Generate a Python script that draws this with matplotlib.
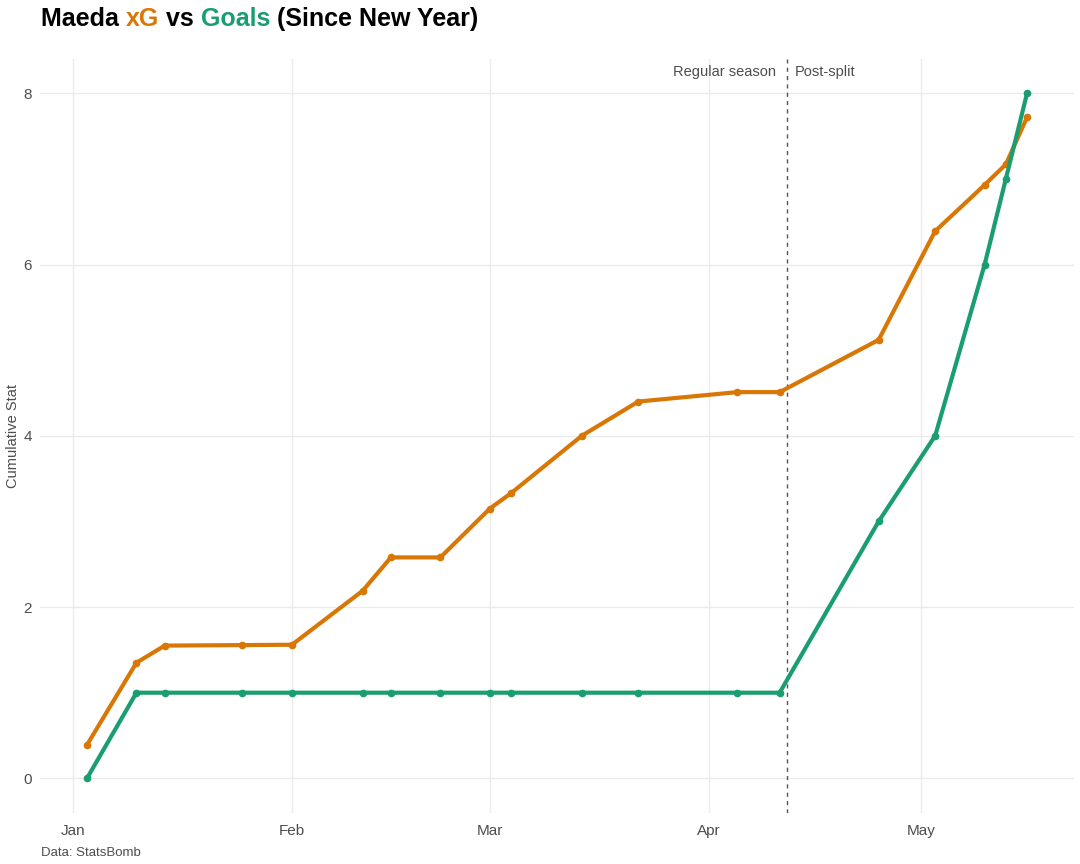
import matplotlib
matplotlib.use('Agg')
import matplotlib.pyplot as plt
import matplotlib.dates as mdates
import pandas as pd

plt.rcParams['font.family'] = ['Liberation Sans', 'DejaVu Sans']

# match dates (2025)
dates = ['2025-01-03', '2025-01-10', '2025-01-14', '2025-01-25', '2025-02-01',
         '2025-02-11', '2025-02-15', '2025-02-22', '2025-03-01', '2025-03-04',
         '2025-03-14', '2025-03-22', '2025-04-05', '2025-04-11', '2025-04-25',
         '2025-05-03', '2025-05-10', '2025-05-13', '2025-05-16']
cum_xg = [0.39, 1.35, 1.55, 1.556, 1.56, 2.19, 2.58, 2.58, 3.15, 3.33,
          4.00, 4.40, 4.51, 4.51, 5.12, 6.39, 6.93, 7.17, 7.72]
cum_goals = [0, 1, 1, 1, 1, 1, 1, 1, 1, 1, 1, 1, 1, 1, 3, 4, 6, 7, 8]
split_date = '2025-04-12'

ORANGE = '#D97706'
GREEN = '#1A9E6F'
GREY = '#4D4D4D'

df = pd.DataFrame({'date': pd.to_datetime(dates), 'xg': cum_xg, 'goals': cum_goals})

fig = plt.figure(figsize=(10.8, 8.64), dpi=100)
ax = fig.add_axes([0.037, 0.0595, 0.9575, 0.8722])

ax.plot(df['date'], df['xg'], color=ORANGE, lw=3.0, marker='o', ms=4.5, zorder=3)
ax.plot(df['date'], df['goals'], color=GREEN, lw=3.0, marker='o', ms=4.5, zorder=3)

split = pd.Timestamp(split_date)
ax.axvline(split, color='#555555', lw=1.0, ls=(0, (3, 3)), zorder=2)
ax.text(split - pd.Timedelta(days=1.5), 8.25, 'Regular season', ha='right', va='center',
        fontsize=10.5, color=GREY)
ax.text(split + pd.Timedelta(days=1.2), 8.25, 'Post-split', ha='left', va='center',
        fontsize=10.5, color=GREY)

# ggplot-style expanded limits
start, end = df['date'].min(), df['date'].max()
pad = (end - start) * 0.05
ax.set_xlim(start - pad, end + pad)
ax.set_ylim(-0.4, 8.4)

ax.xaxis.set_major_locator(mdates.MonthLocator())
ax.xaxis.set_major_formatter(mdates.DateFormatter('%b'))
ax.set_yticks([0, 2, 4, 6, 8])

ax.grid(True, color='#EBEBEB', lw=1.0)
ax.set_axisbelow(True)
for s in ax.spines.values():
    s.set_visible(False)
ax.tick_params(length=0, labelsize=11, labelcolor=GREY)
ax.tick_params(axis='x', pad=8)
ax.tick_params(axis='y', pad=6)
ax.set_ylabel('Cumulative Stat', fontsize=10.5, color=GREY)
ax.yaxis.set_label_coords(-0.0195, 0.5)

# multi-coloured title
parts = [('Maeda ', 'black'), ('xG', ORANGE), (' vs ', 'black'),
         ('Goals', GREEN), (' (Since New Year)', 'black')]
fig.canvas.draw()
renderer = fig.canvas.get_renderer()
x = 41 / 1080
for txt, col in parts:
    t = fig.text(x, 1 - 19 / 864, txt, color=col, fontsize=18, fontweight='bold',
                 ha='left', va='center')
    bb = t.get_window_extent(renderer=renderer)
    x += bb.width / fig.bbox.width

fig.text(41 / 1080, 1 - 853 / 864, 'Data: StatsBomb', fontsize=9.5, color=GREY,
         ha='left', va='center')

fig.savefig('out.png', dpi=100, facecolor='white')
plt.close(fig)
